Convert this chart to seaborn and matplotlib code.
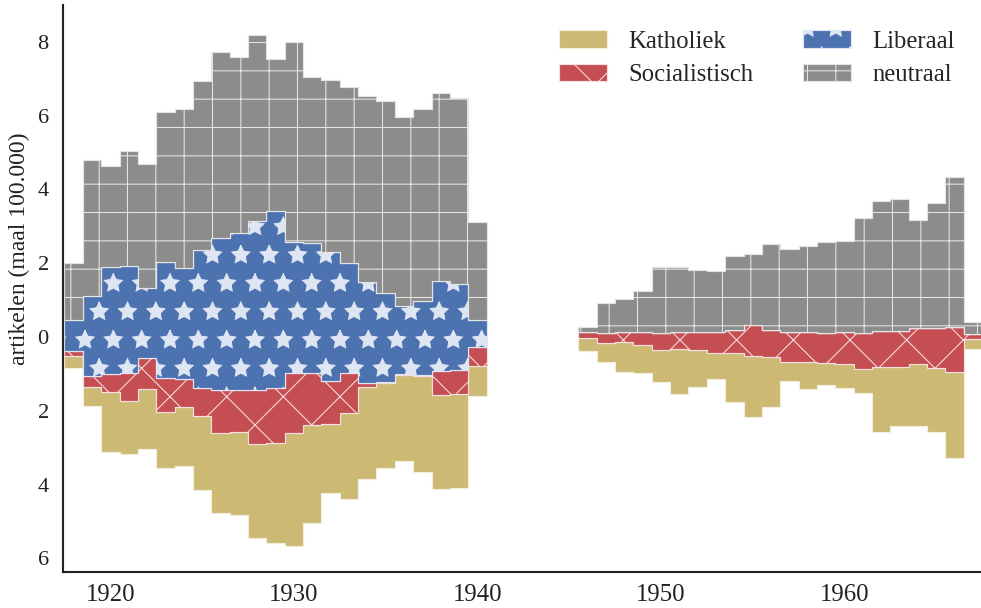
import numpy as np
import pandas as pd
import matplotlib
matplotlib.use('Agg')
import matplotlib.pyplot as plt
import seaborn as sns

# jaren: 1918-1940 en 1946-1967 (oorlogsjaren ontbreken)
jaren = list(range(1918, 1941)) + list(range(1946, 1968))

# onderkant van de stapel (onderkant Katholiek), in 100.000 artikelen
basis = [-0.83, -1.87, -3.13, -3.17, -3.04, -3.56, -3.50, -4.16, -4.78, -4.82,
         -5.46, -5.59, -5.66, -5.05, -4.22, -4.39, -3.86, -3.54, -3.36, -3.67,
         -4.13, -4.10, -1.60,
         -0.38, -0.69, -0.94, -0.98, -1.21, -1.54, -1.35, -1.14, -1.77, -2.18,
         -1.91, -1.18, -1.42, -1.31, -1.39, -1.51, -2.57, -2.41, -2.40, -2.57,
         -3.27, -0.33]

katholiek = [0.32, 0.51, 1.65, 1.44, 1.62, 1.52, 1.61, 2.02, 2.17, 2.25,
             2.56, 2.71, 3.05, 2.67, 1.86, 2.32, 2.51, 2.30, 2.34, 2.62,
             2.56, 2.56, 0.81,
             0.36, 0.54, 0.80, 0.76, 0.86, 1.21, 1.00, 0.72, 1.33, 1.67,
             1.38, 0.51, 0.75, 0.61, 0.65, 0.63, 1.77, 1.59, 1.67, 1.73,
             2.33, 0.27]

socialistisch = [0.14, 0.31, 0.47, 0.76, 0.84, 0.94, 0.74, 0.75, 1.17, 1.13,
                 1.46, 1.49, 1.63, 1.41, 1.18, 1.10, 0.10, 0.03, 0.02, 0.02,
                 0.66, 0.65, 0.53,
                 0.15, 0.27, 0.28, 0.36, 0.45, 0.47, 0.49, 0.55, 0.63, 0.83,
                 0.72, 0.80, 0.81, 0.82, 0.88, 0.98, 0.97, 0.99, 0.97, 1.08,
                 1.22, 0.14]

liberaal = [0.83, 2.15, 2.90, 2.89, 1.90, 3.14, 3.01, 3.75, 4.13, 4.25,
            4.59, 4.81, 3.55, 3.51, 3.49, 2.97, 2.75, 2.39, 1.84, 2.01,
            2.44, 2.33, 0.72,
            0, 0, 0, 0, 0, 0, 0, 0, 0, 0,
            0, 0, 0, 0, 0, 0, 0, 0, 0, 0,
            0, 0]

neutraal = [1.54, 3.70, 2.75, 3.13, 3.38, 4.06, 4.33, 4.59, 5.03, 4.79,
            5.05, 4.12, 5.43, 4.51, 4.67, 4.77, 5.03, 5.21, 5.12, 5.21,
            5.08, 5.05, 2.65,
            0.13, 0.79, 0.88, 1.11, 1.81, 1.77, 1.68, 1.66, 2.00, 1.94,
            2.34, 2.25, 2.33, 2.45, 2.46, 3.13, 3.52, 3.57, 2.93, 3.38,
            4.05, 0.33]

groepen = ['Katholiek', 'Socialistisch', 'Liberaal', 'neutraal']
df = pd.DataFrame({'jaar': jaren, 'basis': basis, 'Katholiek': katholiek,
                   'Socialistisch': socialistisch, 'Liberaal': liberaal,
                   'neutraal': neutraal})
df['periode'] = np.where(df['jaar'] < 1945, 'voor', 'na')

sns.set_theme(style='white', palette='deep')
plt.rcParams['font.family'] = ['Liberation Serif', 'DejaVu Serif']
plt.rcParams['hatch.linewidth'] = 0.45

pal = sns.color_palette('deep')
stijl = {
    'Katholiek': dict(color=pal[8], hatch=None, edgecolor='#f3eedc'),
    'Socialistisch': dict(color=pal[3], hatch='x', edgecolor='#f5dede'),
    'Liberaal': dict(color=pal[0], hatch='*', edgecolor='#dfe6f3'),
    'neutraal': dict(color=pal[7], hatch='+', edgecolor='#e4e4e4'),
}

fig = plt.figure(figsize=(981 / 170, 608 / 170), dpi=170)
ax = fig.add_axes([63 / 981, 36 / 608, 918 / 981, 567 / 608])

# elke periode als één getrapt vlak per groep
for periode, deel in df.groupby('periode', sort=False):
    randen = np.append(deel['jaar'].to_numpy() - 0.5, deel['jaar'].iloc[-1] + 0.5)
    onder = deel['basis'].to_numpy()
    for groep in groepen:
        boven = onder + deel[groep].to_numpy()
        s = stijl[groep]
        ax.fill_between(randen, np.append(onder, onder[-1]), np.append(boven, boven[-1]),
                        step='post', facecolor=s['color'], hatch=s['hatch'],
                        edgecolor=s['edgecolor'], linewidth=0.5,
                        label=groep if periode == 'voor' else None)
        onder = boven

ax.set_xlim(1917.42, 1967.44)
ax.set_ylim(-6.37, 9.0)
ax.set_xticks([1920, 1930, 1940, 1950, 1960])
ax.set_yticks(range(-6, 9, 2))
ax.set_yticklabels([str(abs(v)) for v in range(-6, 9, 2)])
ax.tick_params(axis='both', length=0, colors='#222222')
ax.tick_params(axis='x', pad=5, labelsize=10.5)
ax.tick_params(axis='y', pad=6, labelsize=9.5)
ax.set_ylabel('artikelen (maal 100.000)', fontsize=10, color='#222222')
ax.yaxis.set_label_coords(-0.036, 0.57)

sns.despine(ax=ax)
for sp in ['left', 'bottom']:
    ax.spines[sp].set_color('#222222')
    ax.spines[sp].set_linewidth(0.9)

ax.legend(ncol=2, loc='upper right', bbox_to_anchor=(0.996, 0.995), frameon=False,
          fontsize=10.5, handlelength=1.95, handleheight=0.7, handletextpad=0.85,
          columnspacing=2.0, labelspacing=0.45)

fig.savefig('out.png', dpi=170)
